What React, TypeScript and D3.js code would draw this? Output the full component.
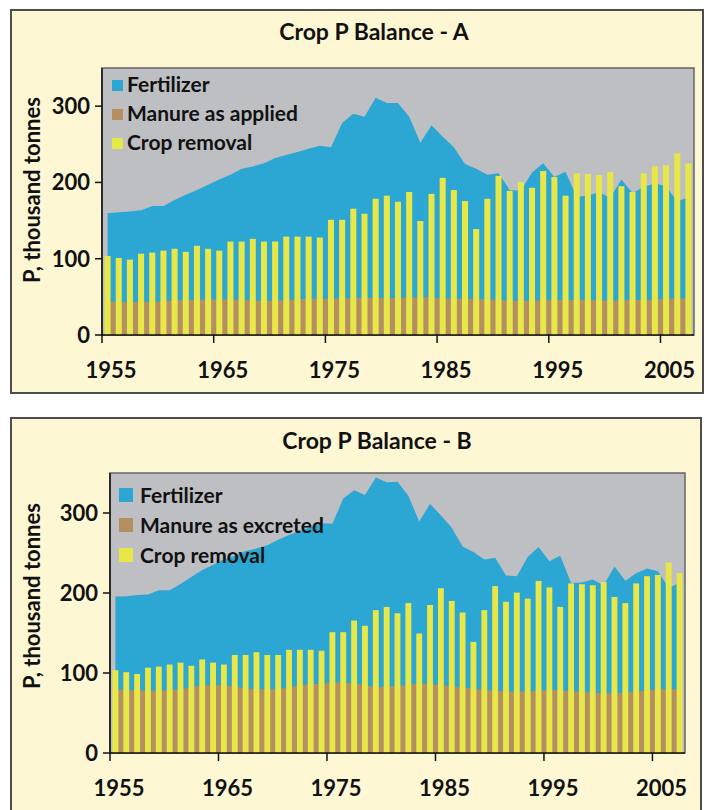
import React, { useEffect, useRef } from 'react';
import * as d3 from 'd3';

// Years on the x axis (one bar per year)
const years = [
  1955, 1956, 1957, 1958, 1959, 1960, 1961, 1962, 1963, 1964,
  1965, 1966, 1967, 1968, 1969, 1970, 1971, 1972, 1973, 1974,
  1975, 1976, 1977, 1978, 1979, 1980, 1981, 1982, 1983, 1984,
  1985, 1986, 1987, 1988, 1989, 1990, 1991, 1992, 1993, 1994,
  1995, 1996, 1997, 1998, 1999, 2000, 2001, 2002, 2003, 2004,
  2005, 2006, 2007,
];

// Fertilizer P, thousand tonnes (stacked on top of manure)
const fertilizer = [
  116, 117.5, 119, 120, 125.5, 125, 131.5, 138, 144, 150.5,
  157.5, 163.5, 172, 176, 180, 187, 190.5, 193, 196.5, 200.5,
  198.5, 230, 241.5, 237.5, 262.5, 255.5, 255.5, 236.5, 202.5, 225.5,
  212, 198.5, 176.5, 171, 163, 166, 145, 144, 168, 179.5,
  161, 168, 135, 136.5, 141.5, 135, 158.5, 140, 148, 152.5,
  147.5, 127, 133,
];

// Manure as applied (panel A)
const manureApplied = [
  43.5, 43.5, 43, 43.5, 43.5, 44, 45.5, 46, 46, 46.5,
  46.5, 46.5, 46, 45, 45, 45, 45.5, 47, 47.5, 47.5,
  47.5, 48, 48.5, 48.5, 48.5, 48.5, 48.5, 49.5, 49.5, 49.5,
  48, 47.5, 47.5, 47, 47, 46, 45, 45, 45, 45.5,
  46, 46, 46, 46.5, 45.5, 45, 45.5, 46, 46, 46.5,
  47.5, 48, 48,
];

// Manure as excreted (panel B)
const manureExcreted = [
  79.6, 78.5, 78.5, 78, 78, 78.5, 79.6, 82, 84.6, 84.6,
  84.6, 83, 80.4, 79.6, 79.6, 79.6, 82, 84.6, 86, 86.6,
  88, 88, 87, 85, 82, 83, 83.7, 85, 87, 86,
  85, 83, 81.5, 80.4, 78.8, 78, 77, 77, 77, 78,
  78.8, 78.5, 77.5, 76.6, 75.4, 74.6, 74.6, 75.4, 76.6, 78,
  79.6, 79.6, 79.6,
];

// Crop removal (same in both panels)
const cropRemoval = [
  103.5, 101, 98.8, 106.6, 108, 110.6, 113, 109, 117, 113,
  110.6, 122.5, 122.5, 126, 122.5, 122.5, 129, 129, 129, 127.8,
  151, 151, 165.6, 159, 178.6, 182.6, 174.7, 187.4, 149.4, 185,
  206, 190, 175.6, 138.9, 178.6, 208.6, 189, 200.5, 193, 215,
  207, 182.6, 212, 211, 209.7, 213.6, 195, 187.4, 212, 221,
  222.6, 238, 225,
];

const yTicks = [0, 100, 200, 300];
const xTicks = [1955, 1965, 1975, 1985, 1995, 2005];

const CREAM = '#fdf7d4';
const GRAY = '#bebfc3';
const BLUE = '#2ca6d2';
const TAN = '#b48f62';
const YELLOW = '#e8e748';
const FONT = 'Lato, "DejaVu Sans", sans-serif';

// layout for the two panels
const panels = [
  {
    title: 'Crop P Balance - A',
    manure: manureApplied,
    manureLabel: 'Manure as applied',
    box: { x: 11, y: 10, w: 692, h: 383 },
    plot: { left: 102, right: 694, top: 68, bottom: 335 },
    titleX: 374, titleY: 40,
    legend: { x: 112, y: 80, size: 11, gap: 29, textX: 127 },
    labelY: 190,
  },
  {
    title: 'Crop P Balance - B',
    manure: manureExcreted,
    manureLabel: 'Manure as excreted',
    box: { x: 11, y: 418, w: 690, h: 420 },
    plot: { left: 110, right: 685, top: 473, bottom: 753 },
    titleX: 377, titleY: 449,
    legend: { x: 119, y: 488, size: 14, gap: 30, textX: 140 },
    labelY: 596,
  },
];

function drawPanel(svg, p) {
  const g = svg.append('g');
  const { plot } = p;

  // outer cream box
  g.append('rect')
    .attr('x', p.box.x).attr('y', p.box.y)
    .attr('width', p.box.w).attr('height', p.box.h)
    .attr('fill', CREAM)
    .attr('stroke', '#4d4d4d')
    .attr('stroke-width', 2);

  g.append('text')
    .attr('x', p.titleX).attr('y', p.titleY)
    .attr('text-anchor', 'middle')
    .style('font-family', FONT).style('font-size', '23px').style('font-weight', 700)
    .attr('fill', '#111')
    .text(p.title);

  const x = d3.scaleBand().domain(years).range([plot.left, plot.right]);
  const y = d3.scaleLinear().domain([0, 350]).range([plot.bottom, plot.top]);
  const cx = (d) => x(d) + x.bandwidth() / 2;

  // plot background
  g.append('rect')
    .attr('x', plot.left).attr('y', plot.top)
    .attr('width', plot.right - plot.left).attr('height', plot.bottom - plot.top)
    .attr('fill', GRAY)
    .attr('stroke', '#666')
    .attr('stroke-width', 1.5);

  const rows = years.map((yr, i) => ({ yr, m: p.manure[i], t: p.manure[i] + fertilizer[i], c: cropRemoval[i] }));

  // fertilizer stacked on manure
  g.append('path')
    .datum(rows)
    .attr('fill', BLUE)
    .attr('d', d3.area().x((d) => cx(d.yr)).y0(y(0)).y1((d) => y(d.t)));

  g.append('path')
    .datum(rows)
    .attr('fill', TAN)
    .attr('d', d3.area().x((d) => cx(d.yr)).y0(y(0)).y1((d) => y(d.m)));

  // crop removal bars
  const bw = x.bandwidth() * 0.54;
  g.selectAll('.bar')
    .data(rows)
    .enter()
    .append('rect')
    .attr('x', (d) => cx(d.yr) - bw / 2)
    .attr('y', (d) => y(d.c))
    .attr('width', bw)
    .attr('height', (d) => y(0) - y(d.c))
    .attr('fill', YELLOW);

  // axes lines
  g.append('line')
    .attr('x1', plot.left).attr('x2', plot.left)
    .attr('y1', plot.top).attr('y2', plot.bottom)
    .attr('stroke', '#111').attr('stroke-width', 1.5);
  g.append('line')
    .attr('x1', plot.left).attr('x2', plot.right)
    .attr('y1', plot.bottom).attr('y2', plot.bottom)
    .attr('stroke', '#111').attr('stroke-width', 1.5);

  // y ticks
  yTicks.forEach((t) => {
    g.append('line')
      .attr('x1', plot.left - 7).attr('x2', plot.left)
      .attr('y1', y(t)).attr('y2', y(t))
      .attr('stroke', '#111').attr('stroke-width', 1.5);
    g.append('text')
      .attr('x', plot.left - 12).attr('y', y(t) + 8)
      .attr('text-anchor', 'end')
      .style('font-family', FONT).style('font-size', '22px').style('font-weight', 700)
      .attr('fill', '#111')
      .text(t);
  });

  // x ticks
  xTicks.forEach((t) => {
    g.append('line')
      .attr('x1', x(t)).attr('x2', x(t))
      .attr('y1', plot.bottom).attr('y2', plot.bottom + 8)
      .attr('stroke', '#111').attr('stroke-width', 1.5);
    g.append('text')
      .attr('x', x(t) + 9).attr('y', plot.bottom + 43)
      .attr('text-anchor', 'middle')
      .style('font-family', FONT).style('font-size', '22px').style('font-weight', 700)
      .attr('fill', '#111')
      .text(t);
  });

  // y axis title
  g.append('text')
    .attr('transform', `translate(40, ${p.labelY}) rotate(-90)`)
    .attr('text-anchor', 'middle')
    .style('font-family', FONT).style('font-size', '22px').style('font-weight', 700)
    .attr('fill', '#111')
    .text('P, thousand tonnes');

  // legend
  const items = [
    { label: 'Fertilizer', color: BLUE },
    { label: p.manureLabel, color: TAN },
    { label: 'Crop removal', color: YELLOW },
  ];
  const lg = p.legend;
  items.forEach((it, i) => {
    const top = lg.y + i * lg.gap;
    g.append('rect')
      .attr('x', lg.x).attr('y', top)
      .attr('width', lg.size).attr('height', lg.size)
      .attr('fill', it.color);
    g.append('text')
      .attr('x', lg.textX).attr('y', top + lg.size + 1)
      .style('font-family', FONT).style('font-size', '21px').style('font-weight', 700)
      .attr('fill', '#111')
      .text(it.label);
  });
}

const App = () => {
  const svgRef = useRef(null);

  useEffect(() => {
    const svg = d3.select(svgRef.current);
    svg.selectAll('*').remove();
    panels.forEach((p) => drawPanel(svg, p));
  }, []);

  return (
    <svg
      ref={svgRef}
      width={707}
      height={810}
      style={{ position: 'absolute', left: 0, top: 0, background: '#fff' }}
    />
  );
};

export default App;
